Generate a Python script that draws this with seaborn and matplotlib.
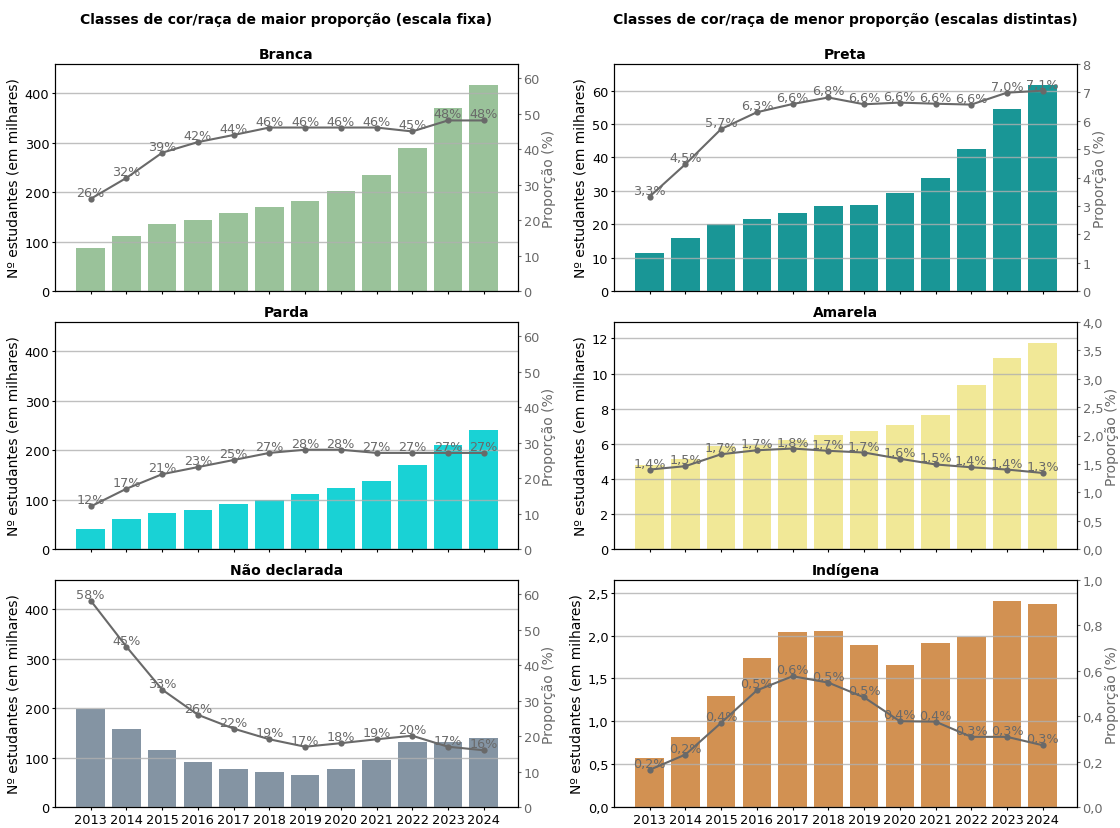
import numpy as np
import pandas as pd
import matplotlib
matplotlib.use("Agg")
import matplotlib.pyplot as plt
import seaborn as sns
from matplotlib.ticker import FuncFormatter, MultipleLocator

# Anos e séries (estudantes em milhares e proporção em %)
anos = ["2013", "2014", "2015", "2016", "2017", "2018",
        "2019", "2020", "2021", "2022", "2023", "2024"]

branca_mil = [87.6, 111.4, 135.3, 143.9, 157.2, 171.1, 183.1, 203.0, 234.8, 290.5, 370.1, 417.9]
branca_pct = [26.0, 31.9, 39.0, 42.0, 44.0, 46.1, 46.1, 46.1, 46.1, 45.0, 48.1, 48.1]

parda_mil = [41.1, 61.0, 73.0, 78.9, 90.9, 99.5, 110.8, 122.7, 138.6, 170.5, 210.3, 240.1]
parda_pct = [12.0, 17.0, 21.1, 23.1, 25.1, 27.1, 28.0, 28.0, 27.1, 27.1, 27.1, 27.1]

nd_mil = [199.0, 158.5, 115.4, 90.9, 77.6, 71.0, 65.0, 77.6, 95.5, 130.7, 131.0, 140.6]
nd_pct = [58.2, 45.2, 33.1, 26.0, 22.1, 19.1, 17.0, 18.0, 19.1, 20.1, 17.0, 16.0]

preta_mil = [11.5, 15.9, 20.0, 21.5, 23.5, 25.6, 25.9, 29.4, 33.8, 42.4, 54.4, 61.8]
preta_pct = [3.33, 4.47, 5.71, 6.30, 6.59, 6.82, 6.58, 6.64, 6.60, 6.57, 6.99, 7.06]

amarela_mil = [4.77, 5.12, 5.85, 5.95, 6.20, 6.47, 6.71, 7.05, 7.61, 9.35, 10.86, 11.76]
amarela_pct = [1.40, 1.46, 1.67, 1.74, 1.77, 1.73, 1.70, 1.59, 1.49, 1.44, 1.40, 1.34]

indigena_mil = [0.570, 0.812, 1.294, 1.742, 2.041, 2.052, 1.891, 1.662, 1.914, 1.983, 2.408, 2.374]
indigena_pct = [0.164, 0.231, 0.371, 0.514, 0.576, 0.548, 0.483, 0.378, 0.376, 0.309, 0.309, 0.272]

plt.rcParams["font.family"] = ["DejaVu Sans"]

W, H = 1120, 829
fig = plt.figure(figsize=(W / 100, H / 100), dpi=100)


def px_axes(left, top, width, height):
    return fig.add_axes([left / W, 1 - (top + height) / H, width / W, height / H])


def comma_fmt(decimals):
    return FuncFormatter(lambda v, p: f"{v:.{decimals}f}".replace(".", ","))


col_left = [55, 614]
col_width = 463
row_top = [65, 323, 581]
row_h = 227

left_panels = [
    ("Branca", branca_mil, branca_pct, "darkseagreen"),
    ("Parda", parda_mil, parda_pct, "darkturquoise"),
    ("Não declarada", nd_mil, nd_pct, "lightslategray"),
]
right_panels = [
    ("Preta", preta_mil, preta_pct, "darkcyan", 10, 0, 8, 1, 0),
    ("Amarela", amarela_mil, amarela_pct, "khaki", 2, 0, 4.0, 0.5, 1),
    ("Indígena", indigena_mil, indigena_pct, "peru", 0.5, 1, 1.0, 0.2, 1),
]

left_ymax = max(max(p[1]) for p in left_panels) * 1.1
left_pmax = max(max(p[2]) for p in left_panels) * 1.1

TICK_FS = 9.3
LABEL_FS = 10
NOTE_FS = 9.2
TICK_KW = dict(length=2.4, pad=1.6)


def draw(ax, name, mil, pct, color, ymax, ystep, ydec, pmax, pstep, pdec, pct_dec, bottom):
    df = pd.DataFrame({"ano": anos, "mil": mil, "pct": pct, "pos": np.arange(len(anos))})
    sns.barplot(data=df, x="ano", y="mil", color=color, saturation=1, alpha=0.9,
                width=0.8, linewidth=0, ax=ax)
    ax.set_ylim(0, ymax)
    ax.yaxis.set_major_locator(MultipleLocator(ystep))
    ax.yaxis.set_major_formatter(comma_fmt(ydec))
    ax.grid(axis="y", color="#b0b0b0", linewidth=1.0, alpha=0.8)
    ax.set_xlabel("")
    ax.set_ylabel("Nº estudantes (em milhares)", fontsize=LABEL_FS, labelpad=3)
    ax.set_title(name, fontsize=10, fontweight="bold", pad=4)
    ax.tick_params(axis="both", labelsize=TICK_FS, **TICK_KW)
    if not bottom:
        ax.tick_params(axis="x", labelbottom=False)

    ax2 = ax.twinx()
    sns.lineplot(data=df, x="pos", y="pct", ax=ax2, color="dimgray", marker="o",
                 markersize=4.5, markeredgewidth=0, linewidth=1.5)
    ax2.set_ylim(0, pmax)
    ax2.yaxis.set_major_locator(MultipleLocator(pstep))
    ax2.yaxis.set_major_formatter(comma_fmt(pdec))
    ax2.set_ylabel("Proporção (%)", color="dimgray", fontsize=LABEL_FS, labelpad=1.5)
    ax2.tick_params(axis="y", colors="dimgray", labelsize=TICK_FS, **TICK_KW)
    ax2.set_xlabel("")
    ax.set_xlim(-1.0, 11.96)
    for i, v in enumerate(pct):
        txt = f"{v:.{pct_dec}f}%".replace(".", ",")
        ax2.text(i, v, txt, ha="center", va="bottom", fontsize=NOTE_FS, color="dimgray")
    return ax2


for r, (name, mil, pct, color) in enumerate(left_panels):
    ax = px_axes(col_left[0], row_top[r], col_width, row_h)
    draw(ax, name, mil, pct, color, left_ymax, 100, 0, left_pmax, 10, 0, 0, r == 2)

for r, (name, mil, pct, color, ystep, ydec, pmax, pstep, pdec) in enumerate(right_panels):
    ax = px_axes(col_left[1], row_top[r], col_width, row_h)
    draw(ax, name, mil, pct, color, max(mil) * 1.1, ystep, ydec, pmax, pstep, pdec, 1, r == 2)

fig.text((col_left[0] + col_width / 2) / W, 1 - 20 / H,
         "Classes de cor/raça de maior proporção (escala fixa)",
         ha="center", va="center", fontsize=10, fontweight="bold")
fig.text((col_left[1] + col_width / 2) / W, 1 - 20 / H,
         "Classes de cor/raça de menor proporção (escalas distintas)",
         ha="center", va="center", fontsize=10, fontweight="bold")

fig.savefig("out.png", dpi=100)
